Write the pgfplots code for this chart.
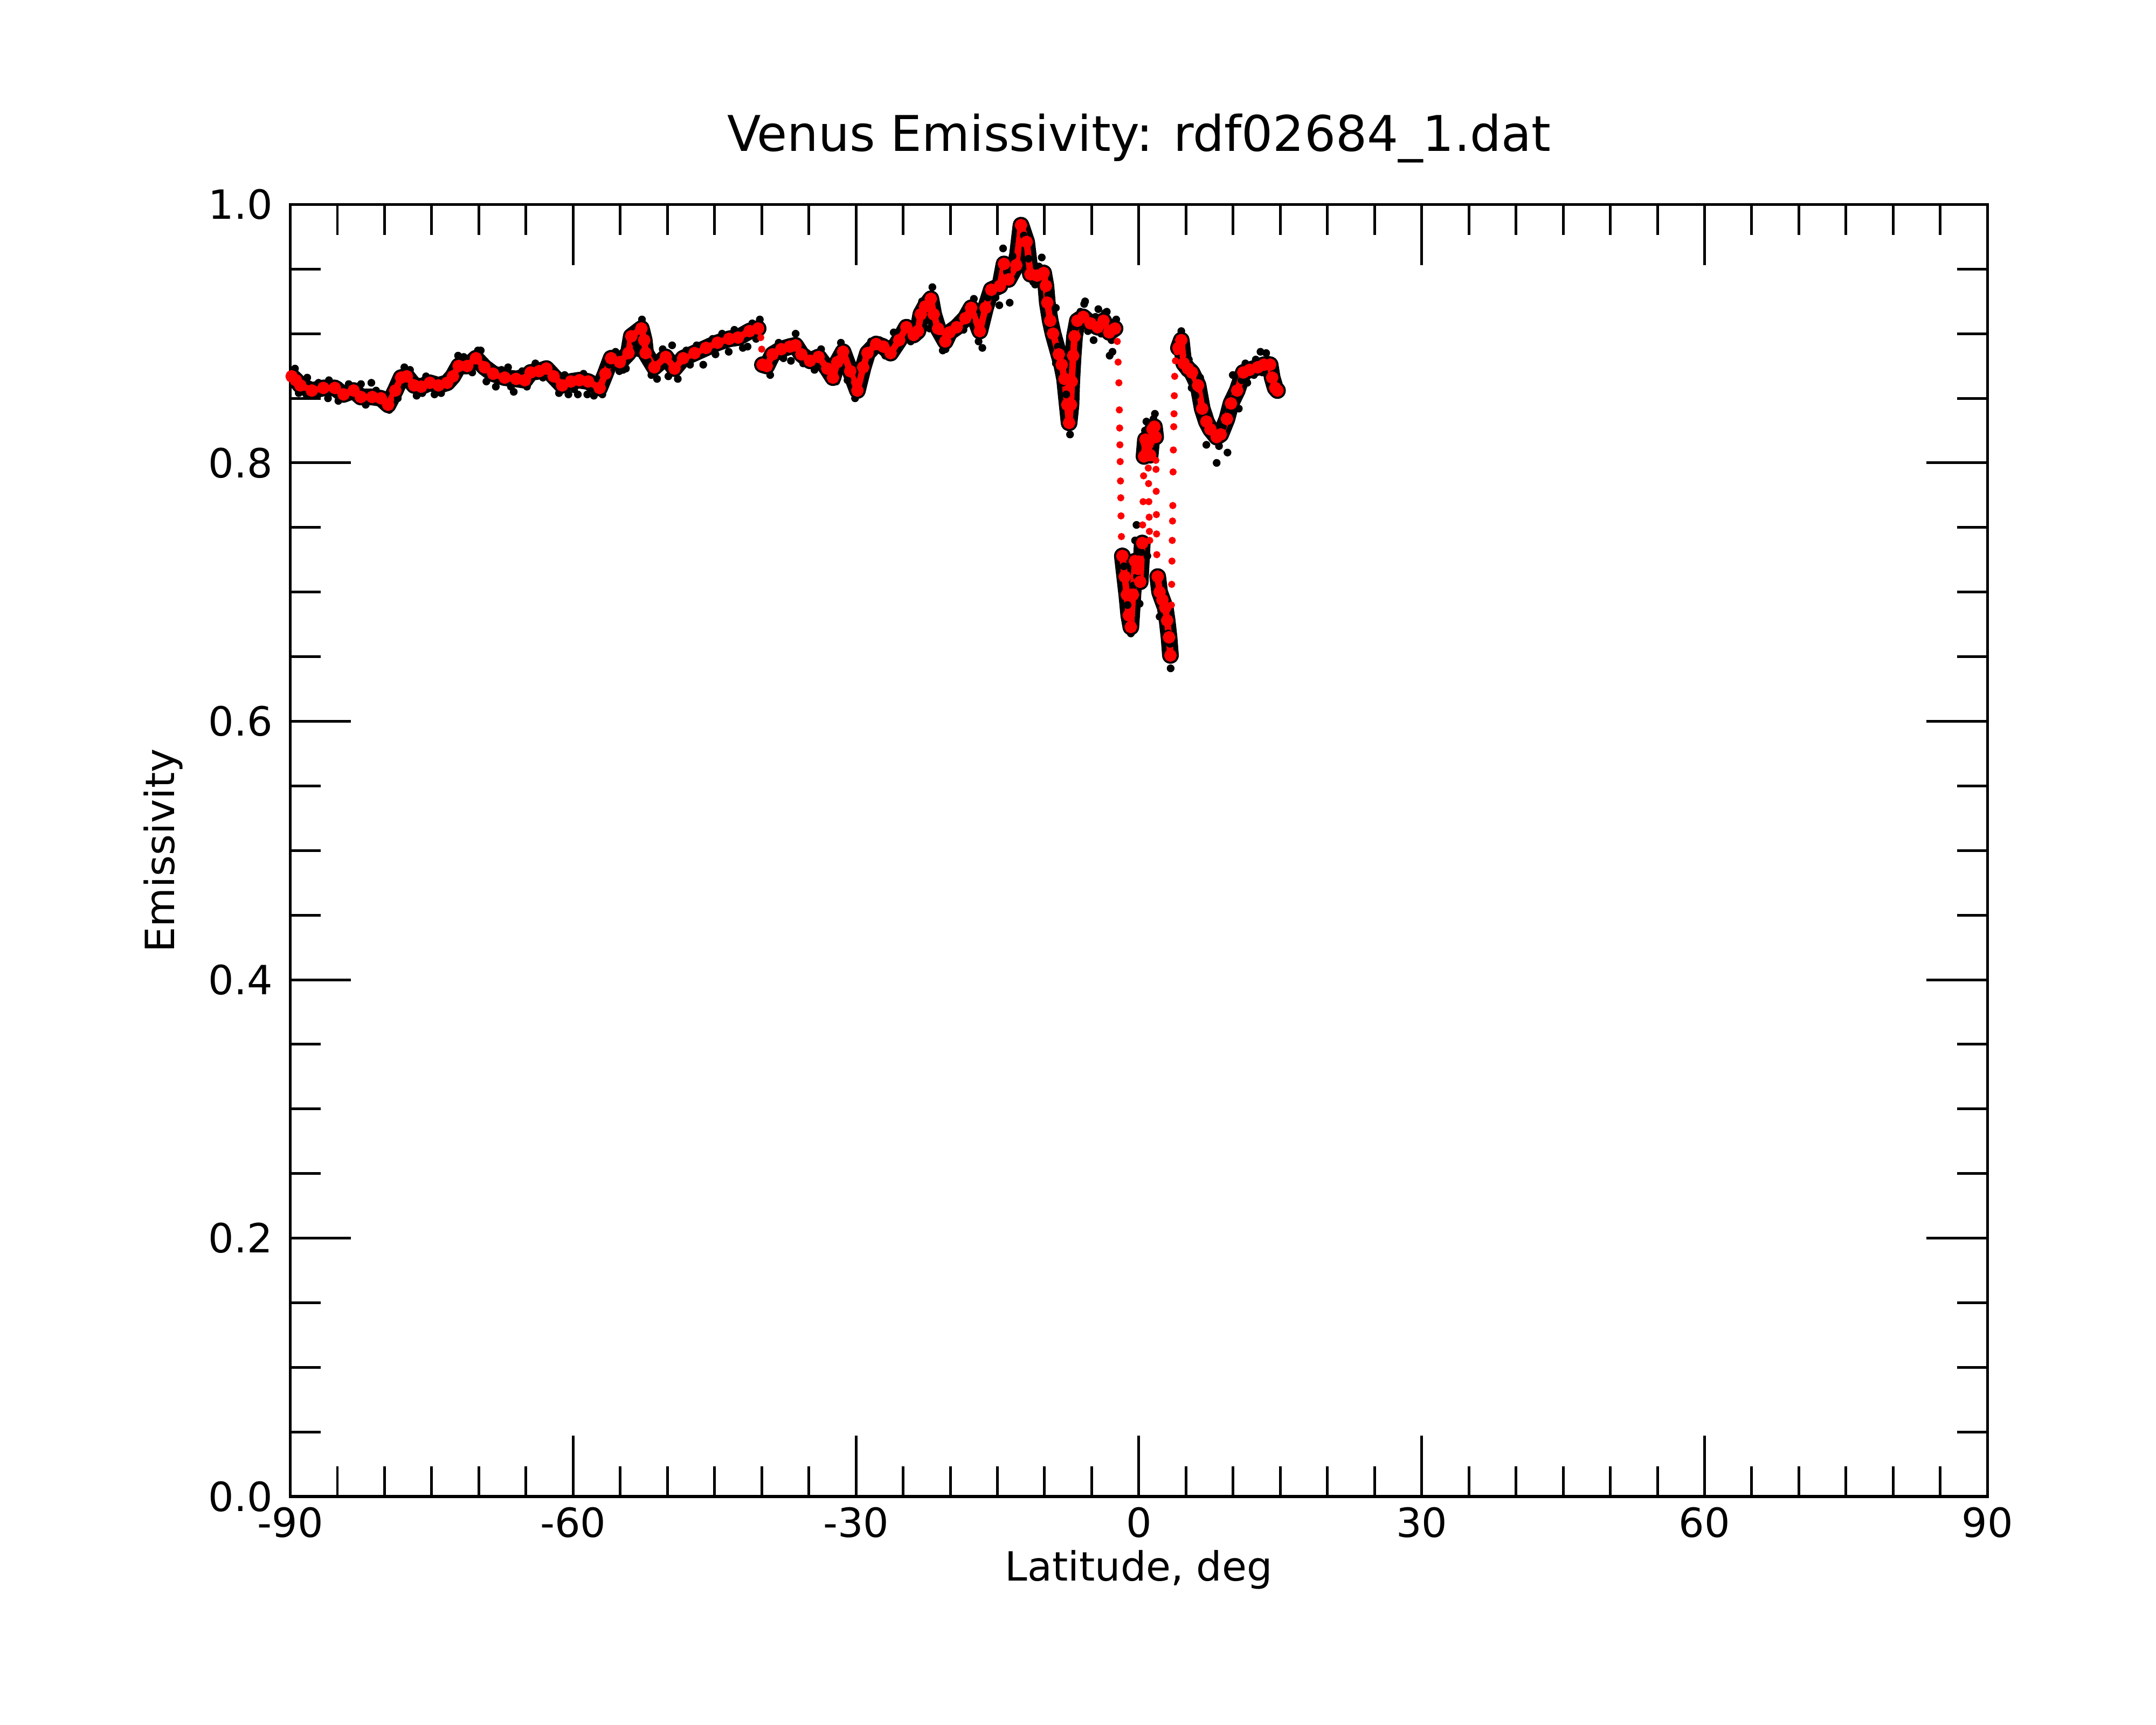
\documentclass[border=0pt]{standalone}
\usepackage{fontspec}
\setmainfont{DejaVu Sans}
\usepackage{pgfplots}
\pgfplotsset{compat=1.18}
\usepackage{pgfplotstable}

\pgfplotstableread{
x y
-89.85 0.867
-89.4 0.864
-88.93 0.860
-87.71 0.856
-86.49 0.858
-85.27 0.858
-84.35 0.853
-83.28 0.856
-82.52 0.851
-81.3 0.851
-80.38 0.850
-79.62 0.845
-78.86 0.856
-78.25 0.866
-77.64 0.867
-76.87 0.860
-76.11 0.859
-75.2 0.862
-74.28 0.860
-73.36 0.862
-72.75 0.867
-72.14 0.875
-71.23 0.875
-70.31 0.881
-69.4 0.874
-68.48 0.869
-67.26 0.866
-66.04 0.865
-65.12 0.864
-64.51 0.870
-63.6 0.871
-62.84 0.873
-62.07 0.867
-61.16 0.860
-60.24 0.863
-59.33 0.864
-58.41 0.863
-57.19 0.858
-56.58 0.869
-55.97 0.881
-55.05 0.878
-54.13 0.885
-53.83 0.898
-52.76 0.904
-52.46 0.895
-52.31 0.885
-51.39 0.874
-50.17 0.882
-49.25 0.873
-48.33 0.881
-47.12 0.885
-45.9 0.889
-44.68 0.893
-43.46 0.896
-42.51 0.897
-41.29 0.902
-40.38 0.904
}\segA

\pgfplotstableread{
x y
-39.92 0.876
-39.46 0.875
-38.85 0.884
-37.93 0.888
-37.02 0.890
-36.41 0.891
-35.79 0.884
-34.88 0.879
-33.97 0.882
-33.05 0.873
-32.44 0.866
-31.98 0.878
-31.37 0.886
-30.61 0.871
-29.85 0.856
-29.24 0.874
-28.78 0.885
-27.86 0.892
-27.1 0.890
-26.33 0.885
-25.42 0.895
-24.65 0.905
-23.89 0.899
-23.43 0.902
-23.13 0.915
-22.67 0.921
-22.06 0.927
-21.76 0.915
-21.3 0.904
-20.53 0.894
-20.08 0.901
-19.32 0.905
-18.4 0.912
-17.79 0.920
-16.87 0.902
-16.26 0.920
-15.65 0.934
-14.74 0.937
-14.3 0.954
-13.82 0.942
-13.0 0.953
-12.5 0.984
-11.9 0.971
-11.5 0.946
-10.8 0.945
-10.1 0.947
-9.86 0.937
-9.71 0.924
-9.4 0.910
-9.1 0.900
-8.49 0.884
-8.18 0.876
-7.88 0.865
-7.6 0.845
-7.4 0.831
-7.2 0.845
-7.12 0.863
-6.97 0.883
-6.82 0.898
-6.52 0.910
-5.9 0.913
-5.13 0.908
-4.37 0.905
-3.75 0.910
-3.14 0.901
-2.53 0.904
}\segB

\pgfplotstableread{
x y
-1.75 0.728
-1.5 0.712
-1.28 0.698
-1.07 0.682
-0.85 0.673
-0.63 0.698
-0.41 0.724
-0.08 0.718
0.14 0.708
0.36 0.738
}\segDa

\pgfplotstableread{
x y
0.55 0.805
0.7 0.818
0.9 0.814
1.2 0.806
1.45 0.826
1.65 0.828
1.78 0.820
}\segDb

\pgfplotstableread{
x y
2.0 0.712
2.2 0.700
2.5 0.694
2.8 0.688
3.0 0.678
3.2 0.665
3.35 0.651
}\segDc

\pgfplotstableread{
x y
4.2 0.889
4.5 0.895
4.76 0.877
5.2 0.873
5.63 0.870
6.28 0.860
6.72 0.842
7.16 0.832
7.59 0.826
8.25 0.820
8.68 0.822
9.34 0.834
9.77 0.846
10.43 0.856
11.08 0.870
11.74 0.872
12.61 0.874
13.26 0.876
13.92 0.876
14.14 0.866
14.46 0.858
14.7 0.856
}\segE

\pgfplotstableread{
x y
-40.1 0.897
-40.0 0.888
-2.29 0.894
-2.20 0.878
-2.12 0.862
-2.07 0.841
-2.04 0.827
-2.01 0.814
-1.98 0.801
-1.95 0.786
-1.92 0.773
-1.89 0.759
-1.85 0.743
0.40 0.752
0.45 0.770
0.50 0.790
1.00 0.796
1.03 0.784
1.06 0.770
1.09 0.758
1.12 0.747
1.15 0.740
1.80 0.802
1.82 0.795
1.84 0.778
1.86 0.760
1.88 0.745
1.90 0.729
3.45 0.690
3.48 0.706
3.51 0.724
3.54 0.740
3.57 0.755
3.60 0.767
3.63 0.793
3.66 0.810
3.70 0.828
3.73 0.838
3.76 0.852
3.80 0.867
3.88 0.879
4.05 0.886
}\sparse

\pgfplotstableread{
x y
-89.5 0.873
-89.1 0.854
-88.2 0.866
-86.0 0.850
-84.8 0.860
-82.5 0.861
-81.4 0.862
-79.5 0.841
-77.3 0.872
-76.0 0.854
-74.0 0.854
-72.2 0.883
-70.1 0.887
-69.2 0.863
-68.2 0.859
-66.9 0.874
-66.3 0.855
-65.8 0.869
-64.9 0.859
-62.5 0.875
-60.5 0.853
-59.5 0.853
-58.5 0.853
-56.9 0.853
-55.1 0.871
-54.4 0.873
-52.7 0.911
-53.1 0.885
-51.1 0.865
-49.5 0.891
-48.9 0.865
-46.9 0.891
-46.2 0.876
-44.2 0.900
-43.5 0.886
-41.5 0.890
-40.2 0.911
-39.1 0.868
-36.4 0.900
-36.9 0.879
-34.4 0.872
-32.1 0.863
-29.6 0.854
-27.5 0.895
-24.9 0.908
-22.6 0.926
-21.9 0.936
-22.2 0.904
-20.5 0.888
-18.0 0.910
-16.6 0.889
-14.8 0.922
-14.4 0.966
-13.7 0.924
-12.5 0.986
-11.0 0.938
-10.3 0.959
-8.8 0.920
-8.8 0.877
-8.1 0.862
-7.9 0.863
-7.3 0.822
-5.8 0.923
-5.7 0.925
-4.8 0.895
-4.3 0.919
-3.4 0.917
-3.1 0.883
-2.8 0.886
-2.4 0.911
-0.85 0.668
-1.2 0.690
-0.25 0.752
-0.4 0.740
0.08 0.691
0.8 0.832
1.7 0.838
0.9 0.728
2.2 0.681
2.6 0.700
3.37 0.641
3.3 0.660
4.5 0.902
5.6 0.858
7.16 0.814
8.25 0.800
9.4 0.808
9.96 0.868
10.6 0.842
12.9 0.886
13.5 0.885
13.9 0.860
6.5 0.866
11.5 0.862
-88.3 0.853
-87.0 0.862
-85.9 0.864
-84.9 0.848
-83.8 0.861
-82.0 0.845
-80.9 0.856
-80.0 0.843
-78.6 0.850
-77.9 0.874
-76.6 0.852
-75.6 0.867
-74.7 0.853
-73.0 0.869
-71.6 0.882
-70.7 0.870
-69.8 0.887
-68.9 0.866
-67.6 0.872
-66.6 0.859
-65.4 0.871
-64.0 0.877
-63.2 0.866
-61.5 0.854
-60.9 0.868
-59.9 0.857
-58.9 0.869
-57.8 0.852
-56.2 0.876
-55.5 0.886
-54.7 0.872
-53.4 0.893
-52.1 0.879
-51.7 0.868
-50.5 0.888
-49.9 0.867
-48.0 0.887
-47.6 0.876
-45.2 0.896
-44.9 0.884
-42.9 0.903
-42.0 0.889
-41.0 0.908
-40.6 0.896
-38.2 0.893
-37.7 0.881
-35.6 0.877
-33.7 0.888
-32.8 0.867
-31.6 0.893
-30.9 0.864
-30.1 0.850
-28.4 0.894
-26.9 0.883
-26.0 0.901
-24.2 0.894
-23.0 0.925
-21.1 0.896
-20.8 0.887
-19.0 0.912
-18.6 0.903
-17.5 0.927
-17.0 0.894
-16.0 0.928
-15.2 0.928
-14.0 0.948
-13.4 0.960
-12.2 0.976
-11.7 0.958
-11.2 0.940
-10.6 0.952
-9.6 0.930
-9.2 0.905
-8.6 0.890
-7.7 0.853
-6.7 0.905
-6.2 0.917
-5.4 0.902
-4.6 0.913
-4.0 0.900
-3.6 0.916
-2.9 0.895
-2.6 0.909
4.9 0.870
5.3 0.880
6.0 0.852
6.9 0.836
7.4 0.838
7.9 0.818
8.5 0.813
8.9 0.828
9.6 0.840
10.1 0.850
10.9 0.864
11.3 0.877
12.2 0.868
12.4 0.880
13.1 0.870
13.7 0.880
14.3 0.872
14.0 0.862
-1.6 0.720
-1.0 0.676
-0.6 0.705
-0.2 0.712
0.25 0.731
1.3 0.812
1.55 0.834
0.65 0.825
2.4 0.688
2.9 0.694
3.1 0.668
}\outl

\pgfplotsset{
  rawband/.style={black, line width=5.6pt, line join=round, line cap=round, no marks},
  smooth red/.style={red, line width=2.2pt, line join=round, mark=*, mark size=1.0pt, mark options={fill=red,draw=red}},
}

\begin{document}
\begin{tikzpicture}
\useasboundingbox (-97.3pt,-76.45pt) rectangle (625.4pt,501.76pt);
\begin{axis}[
  at={(0pt,0pt)}, anchor=south west,
  scale only axis, width=568.9pt, height=433.2pt,
  xmin=-90, xmax=90, ymin=0, ymax=1,
  xtick={-90,-60,-30,0,30,60,90},
  xticklabels={-90,-60,-30,0,30,60,90},
  ytick={0,0.2,0.4,0.6,0.8,1.0},
  yticklabels={0.0,0.2,0.4,0.6,0.8,1.0},
  minor x tick num=5, minor y tick num=3,
  tick align=inside,
  major tick length=20.4pt, minor tick length=10.2pt,
  axis line style={line width=1pt},
  every tick/.style={black, line width=0.9pt},
  tick label style={font=\fontsize{13.5}{16}\selectfont},
  yticklabel style={xshift=-2.4pt},
  title={Venus Emissivity: rdf02684\_1.dat},
  title style={font=\fontsize{16.5}{20}\selectfont, at={(axis description cs:0.5,1.0376)}, anchor=center},
  xlabel={Latitude, deg},
  xlabel style={font=\fontsize{13.5}{16}\selectfont, at={(axis description cs:0.5,-0.0566)}, anchor=center},
  ylabel={Emissivity},
  ylabel style={font=\fontsize{13.5}{16}\selectfont, at={(axis description cs:-0.0749,0.5)}, anchor=center},
]
% raw data (black): dense band and scattered points
\addplot[rawband] table {\segA};
\addplot[rawband] table {\segB};
\addplot[rawband] table {\segDa};
\addplot[rawband] table {\segDb};
\addplot[rawband] table {\segDc};
\addplot[rawband] table {\segE};
\addplot[only marks, mark=*, mark size=1.1pt, color=black] table {\outl};
% smoothed data (red)
\addplot[smooth red] table {\segA};
\addplot[smooth red] table {\segB};
\addplot[smooth red] table {\segDa};
\addplot[smooth red] table {\segDb};
\addplot[smooth red] table {\segDc};
\addplot[smooth red] table {\segE};
\addplot[only marks, mark=*, mark size=1.0pt, color=red, mark options={fill=red,draw=red}] table {\sparse};
\end{axis}
\end{tikzpicture}
\end{document}
